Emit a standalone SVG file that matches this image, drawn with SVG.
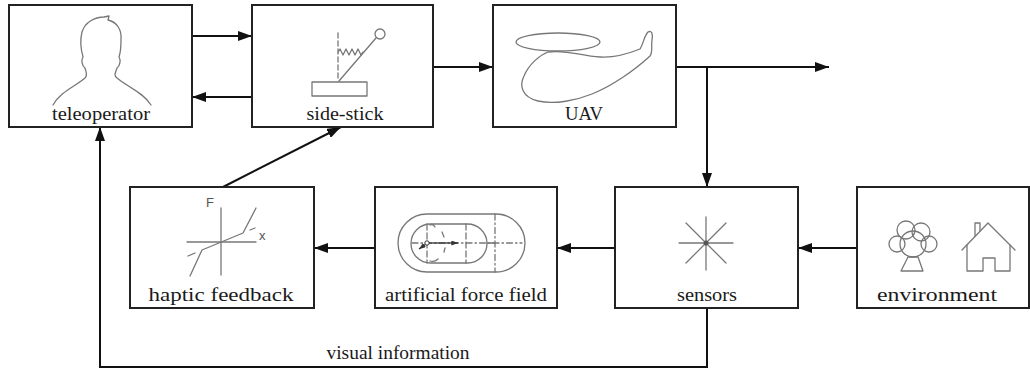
<svg xmlns="http://www.w3.org/2000/svg" width="1030" height="372" viewBox="0 0 1030 372">
  <style>
    .box { fill: #fff; stroke: #222; stroke-width: 2; }
    .wire { fill: none; stroke: #111; stroke-width: 2; }
    .icon { fill: none; stroke: #777; stroke-width: 1.3; stroke-linejoin: round; stroke-linecap: round; }
    .lbl { font-family: "Liberation Serif", "Times New Roman", serif; font-size: 19.5px; fill: #1a1a1a; text-anchor: middle; }
    .sans { font-family: "Liberation Sans", Arial, sans-serif; font-size: 13px; fill: #555; }
  </style>
  <defs>
    <marker id="arr" viewBox="0 0 14 10" refX="14" refY="5" markerWidth="14" markerHeight="10" markerUnits="userSpaceOnUse" orient="auto">
      <path d="M0,0 L14,5 L0,10 Z" fill="#111"/>
    </marker>
    <marker id="arrSmall" viewBox="0 0 8 6" refX="8" refY="3" markerWidth="7" markerHeight="5" markerUnits="userSpaceOnUse" orient="auto">
      <path d="M0,0 L8,3 L0,6 Z" fill="#333"/>
    </marker>
  </defs>

  <!-- connectors -->
  <g id="connectors">
    <line class="wire" x1="192" y1="36" x2="252" y2="36" marker-end="url(#arr)"/>
    <line class="wire" x1="252" y1="97" x2="192" y2="97" marker-end="url(#arr)"/>
    <line class="wire" x1="433" y1="67" x2="493" y2="67" marker-end="url(#arr)"/>
    <line class="wire" x1="676" y1="67" x2="829" y2="67" marker-end="url(#arr)"/>
    <line class="wire" x1="707" y1="67" x2="707" y2="187" marker-end="url(#arr)"/>
    <line class="wire" x1="857" y1="248" x2="798" y2="248" marker-end="url(#arr)"/>
    <line class="wire" x1="615" y1="248" x2="557" y2="248" marker-end="url(#arr)"/>
    <line class="wire" x1="375" y1="248" x2="314" y2="248" marker-end="url(#arr)"/>
    <line class="wire" x1="223" y1="187" x2="341" y2="127" marker-end="url(#arr)"/>
    <polyline class="wire" points="707,308 707,367 100,367 100,127" marker-end="url(#arr)"/>
    <text class="lbl" x="398" y="359" textLength="143" lengthAdjust="spacingAndGlyphs">visual information</text>
  </g>

  <!-- teleoperator -->
  <g id="teleoperator">
    <rect class="box" x="9" y="5" width="183" height="122"/>
    <path class="icon" d="M53,105 C60,92 76,86 85,78 C88,75 86,72 85,68 C82,66 81,60 83,57 C81,50 80,40 82,32 C85,22 95,17 104,17 L109,16 L108,20 C117,22 122,30 121,40 C121,48 120,54 119,57 C121,60 120,66 117,68 C116,72 113,75 117,78 C126,86 143,92 151,105"/>
    <text class="lbl" x="101" y="120" textLength="98" lengthAdjust="spacingAndGlyphs">teleoperator</text>
  </g>

  <!-- side-stick -->
  <g id="side-stick">
    <rect class="box" x="252" y="5" width="181" height="122"/>
    <line class="icon" x1="338" y1="33" x2="338" y2="81" stroke-dasharray="5,3"/>
    <polyline class="icon" points="338,52 340,49 343,55 346,49 349,55 352,49 355,55 358,49 361,55 363,52"/>
    <line class="icon" x1="339" y1="81" x2="376" y2="38"/>
    <circle class="icon" cx="380" cy="34" r="5"/>
    <rect class="icon" x="312" y="82" width="55" height="14"/>
    <text class="lbl" x="345" y="120" textLength="77" lengthAdjust="spacingAndGlyphs">side-stick</text>
  </g>

  <!-- UAV -->
  <g id="uav">
    <rect class="box" x="493" y="5" width="183" height="122"/>
    <ellipse class="icon" cx="558" cy="42" rx="42" ry="9"/>
    <path class="icon" d="M548,52 C570,50 580,56 600,57 C615,58 630,53 640,49 C643,45 644,36 648,32 C652,30 653,34 652,40 C651,46 653,52 650,56 C635,70 612,86 592,94 C577,100 555,105 538,101 C522,97 519,86 524,76 C529,64 540,55 548,52 Z"/>
    <text class="lbl" x="584" y="120" textLength="38" lengthAdjust="spacingAndGlyphs">UAV</text>
  </g>

  <!-- haptic feedback -->
  <g id="haptic-feedback">
    <rect class="box" x="130" y="187" width="184" height="121"/>
    <line class="icon" x1="221" y1="208" x2="221" y2="275"/>
    <line class="icon" x1="187" y1="242" x2="256" y2="242"/>
    <polyline class="icon" points="190,276 202,250 243,233 256,208"/>
    <line class="icon" x1="188" y1="256" x2="195" y2="253"/>
    <line class="icon" x1="250" y1="230" x2="255" y2="228"/>
    <text class="sans" x="206" y="207">F</text>
    <text class="sans" x="259" y="240">x</text>
    <text class="lbl" x="221" y="301" textLength="145" lengthAdjust="spacingAndGlyphs">haptic feedback</text>
  </g>

  <!-- artificial force field -->
  <g id="artificial-force-field">
    <rect class="box" x="375" y="187" width="182" height="121"/>
    <rect class="icon" x="398" y="214" width="127" height="58" rx="29"/>
    <rect class="icon" x="411" y="224" width="76" height="39" rx="19.5" fill="#e4e4e4"/>
    <line class="icon" x1="412" y1="243" x2="522" y2="243" stroke-dasharray="6,3,1.5,3"/>
    <line class="icon" x1="427" y1="224" x2="427" y2="263" stroke-dasharray="6,3"/>
    <line class="icon" x1="466" y1="224" x2="466" y2="263" stroke-dasharray="6,3"/>
    <line class="icon" x1="495" y1="214" x2="495" y2="272" stroke-dasharray="6,3,1.5,3"/>
    <line class="icon" x1="487" y1="243" x2="495" y2="243"/>
    <line x1="427" y1="243" x2="458" y2="243" stroke="#333" stroke-width="1.3" marker-end="url(#arrSmall)"/>
    <line x1="426" y1="244" x2="419" y2="249" stroke="#333" stroke-width="1.3" marker-end="url(#arrSmall)"/>
    <circle cx="427" cy="243" r="2.2" fill="#fff" stroke="#333" stroke-width="1"/>
    <line class="icon" x1="442" y1="232" x2="444" y2="237"/>
    <line class="icon" x1="445" y1="248" x2="444" y2="252"/>
    <path class="icon" d="M430,261 C433,262 436,261 438,259"/>
    <path class="icon" d="M430,225 C432,224 434,225 435,227"/>
    <text class="lbl" x="466" y="301" textLength="162" lengthAdjust="spacingAndGlyphs">artificial force field</text>
  </g>

  <!-- sensors -->
  <g id="sensors">
    <rect class="box" x="615" y="187" width="183" height="121"/>
    <line class="icon" x1="706" y1="217" x2="706" y2="270"/>
    <line class="icon" x1="679" y1="243" x2="733" y2="243"/>
    <line class="icon" x1="686" y1="223" x2="726" y2="263"/>
    <line class="icon" x1="726" y1="223" x2="686" y2="263"/>
    <circle cx="706" cy="243" r="2.5" fill="#555"/>
    <text class="lbl" x="707" y="301" textLength="60" lengthAdjust="spacingAndGlyphs">sensors</text>
  </g>

  <!-- environment -->
  <g id="environment">
    <rect class="box" x="857" y="187" width="172" height="121"/>
    <circle class="icon" cx="906" cy="230" r="9"/>
    <circle class="icon" cx="921" cy="232" r="9"/>
    <circle class="icon" cx="897" cy="244" r="8"/>
    <circle class="icon" cx="929" cy="244" r="8"/>
    <circle class="icon" cx="913" cy="244" r="13"/>
    <path class="icon" d="M908,257 L918,257 L923,271 L901,271 Z"/>
    <polyline class="icon" points="962,250 988,223 1015,250"/>
    <polyline class="icon" points="967,245 967,271 983,271 983,258 995,258 995,271 1010,271 1010,245"/>
    <polyline class="icon" points="975,236 975,223 980,223 980,231"/>
    <text class="lbl" x="937" y="301" textLength="120" lengthAdjust="spacingAndGlyphs">environment</text>
  </g>
</svg>
